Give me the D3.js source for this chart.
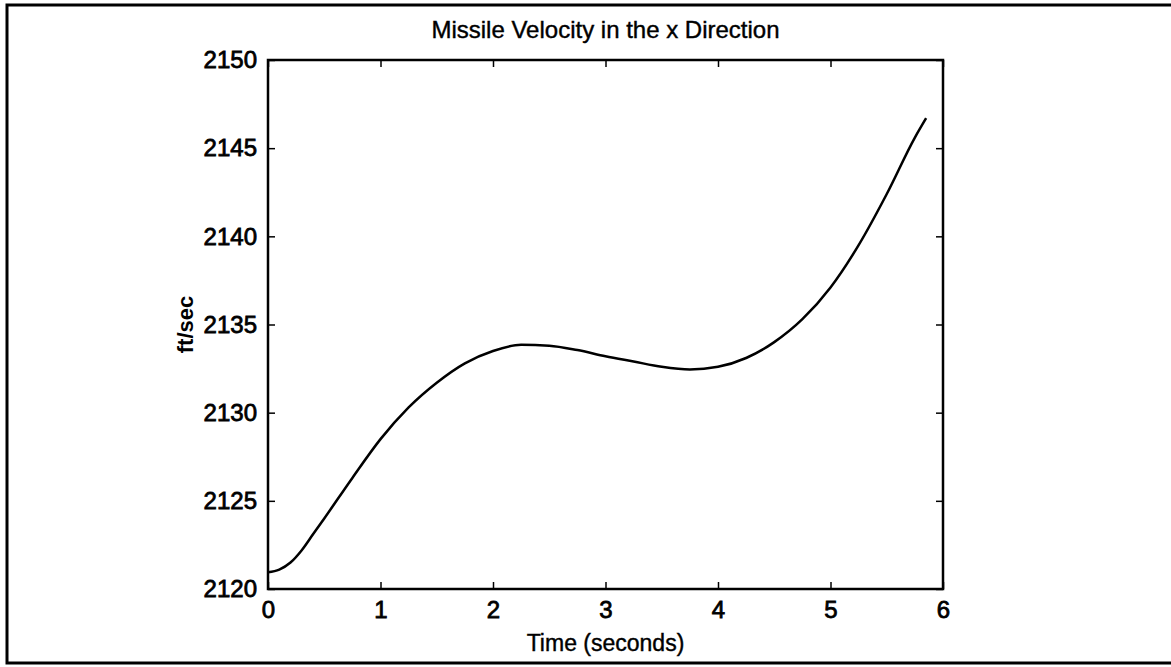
<!DOCTYPE html>
<html>
<head>
<meta charset="utf-8">
<script src="https://cdnjs.cloudflare.com/ajax/libs/d3/7.8.5/d3.min.js"></script>
<style>
    body { margin: 0; background: #fff; }
    text { font-family: "Liberation Sans", Arial, sans-serif; fill: #000; }
</style>
</head>
<body>
<div id="chart-container"></div>
<script>
// MISSILE VELOCITY LINE CHART

// Data

var time = [0, 0.1, 0.2, 0.3, 0.4, 0.5, 0.75, 1.0, 1.25, 1.5, 1.75, 2.0, 2.25, 2.5, 2.75, 3.0,
            3.25, 3.5, 3.75, 4.0, 4.25, 4.5, 4.75, 5.0, 5.25, 5.5, 5.75, 5.85];
var velocity = [2120.95, 2121.1, 2121.5, 2122.2, 2123.1, 2124.0, 2126.3, 2128.5, 2130.3, 2131.7,
                2132.8, 2133.5, 2133.85, 2133.8, 2133.55, 2133.2, 2132.9, 2132.6, 2132.45, 2132.6,
                2133.1, 2134.0, 2135.3, 2137.1, 2139.5, 2142.4, 2145.6, 2146.7];
var xTicks = [0, 1, 2, 3, 4, 5, 6];
var yTicks = [2120, 2125, 2130, 2135, 2140, 2145, 2150];

// Chart variables

var svgWidth = 1171;
var svgHeight = 667;
var margin = {top: 60, right: 228, bottom: 78, left: 268};
var width = svgWidth - margin.left - margin.right;
var height = svgHeight - margin.top - margin.bottom;

var svg = d3.select("#chart-container")
            .append("svg")
            .attr("width", svgWidth)
            .attr("height", svgHeight);

// Outer frame of the page

svg.append("rect")
    .attr("x", 7)
    .attr("y", 5)
    .attr("width", 1175)
    .attr("height", 658)
    .attr("fill", "none")
    .attr("stroke", "#000")
    .attr("stroke-width", 3);

var chart = svg.append("g")
               .attr("transform", "translate(" + margin.left + "," + margin.top + ")");

// Scales

var x = d3.scaleLinear()
          .domain([0, 6])
          .range([0, width]);

var y = d3.scaleLinear()
          .domain([2120, 2150])
          .range([height, 0]);

// Axes (inward ticks on all four sides, like a boxed plot)

function styleAxis(g) {
    g.select(".domain").remove();
    g.selectAll(".tick line").attr("stroke", "#000").attr("stroke-width", 1.5);
    g.selectAll(".tick text")
        .style("font-size", "24px")
        .attr("stroke", "#000")
        .attr("stroke-width", 0.8);
}

chart.append("g")
    .attr("transform", "translate(0," + height + ")")
    .call(d3.axisBottom(x).tickValues(xTicks).tickSize(-7).tickPadding(12).tickFormat(d3.format("d")))
    .call(styleAxis);

chart.append("g")
    .call(d3.axisLeft(y).tickValues(yTicks).tickSize(-7).tickPadding(11).tickFormat(d3.format("d")))
    .call(styleAxis);

chart.append("g")
    .call(d3.axisTop(x).tickValues(xTicks).tickSize(-7).tickFormat(""))
    .call(styleAxis);

chart.append("g")
    .attr("transform", "translate(" + width + ",0)")
    .call(d3.axisRight(y).tickValues(yTicks).tickSize(-7).tickFormat(""))
    .call(styleAxis);

// Box

chart.append("rect")
    .attr("width", width)
    .attr("height", height)
    .attr("fill", "none")
    .attr("stroke", "#000")
    .attr("stroke-width", 2.5);

// The line

var line = d3.line()
             .x(function(d, i) { return x(time[i]); })
             .y(function(d) { return y(d); })
             .curve(d3.curveMonotoneX);

chart.append("path")
    .datum(velocity)
    .attr("d", line)
    .attr("fill", "none")
    .attr("stroke", "#000")
    .attr("stroke-width", 2.5);

// Labels

chart.append("text")
    .attr("x", width / 2)
    .attr("y", -22)
    .attr("text-anchor", "middle")
    .style("font-size", "24px")
    .attr("stroke", "#000")
    .attr("stroke-width", 0.4)
    .text("Missile Velocity in the x Direction");

chart.append("text")
    .attr("x", width / 2)
    .attr("y", height + 62)
    .attr("text-anchor", "middle")
    .style("font-size", "23px")
    .attr("stroke", "#000")
    .attr("stroke-width", 0.4)
    .text("Time (seconds)");

chart.append("text")
    .attr("transform", "translate(" + (193 - margin.left) + "," + (height / 2) + ") rotate(-90)")
    .attr("text-anchor", "middle")
    .style("font-size", "22px")
    .style("font-weight", "bold")
    .text("ft/sec");
</script>
</body>
</html>
